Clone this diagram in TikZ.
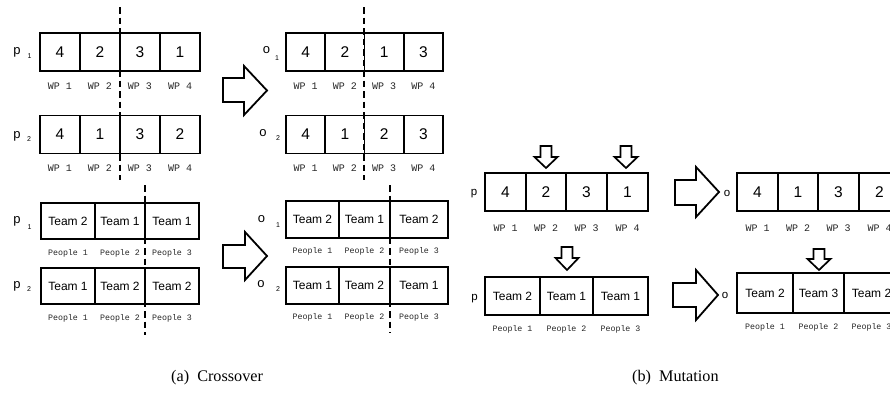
\documentclass[tikz,border=0pt]{standalone}
\usepackage{fontspec}
\setmainfont{Liberation Serif}
\newfontfamily\sansf{Liberation Sans}
\newfontfamily\monof{Liberation Mono}
\begin{document}
\begin{tikzpicture}[x=1pt,y=-1pt,
  cell/.style={draw, line width=1.7pt, inner sep=0pt, minimum height=38pt},
  num/.style={font=\sansf\fontsize{15.5}{15.5}\selectfont},
  team/.style={font=\sansf\fontsize{12}{12}\selectfont},
  wp/.style={font=\monof\fontsize{10}{10}\selectfont, inner sep=0pt, text=black!85},
  ppl/.style={font=\monof\fontsize{8.3}{8.3}\selectfont, inner sep=0pt, text=black!85},
  lbl/.style={font=\sansf\fontsize{13}{13}\selectfont, inner sep=0pt},
  mlbl/.style={font=\sansf\fontsize{11.5}{11.5}\selectfont, inner sep=0pt},
  sub/.style={font=\sansf\fontsize{7}{7}\selectfont, inner sep=0pt},
  cut/.style={line width=2pt, dash pattern=on 6.5pt off 4pt},
  bigarrow/.style={draw, line width=1.8pt, fill=white, line join=miter},
  caption/.style={font=\fontsize{16.2}{16.2}\selectfont, inner sep=0pt, anchor=west}
]
\useasboundingbox (0,0) rectangle (890,407);
\fill[white] (0,0) rectangle (890,407);
\clip (0,0) rectangle (890,407);

% ---------------- Crossover: work packages ----------------
\node[lbl] (lp1) at (17,52.5) {p};
\node[sub] (lp1s) at (29.5,56) {1};
\node[cell,num,minimum width=40pt] (pa1) at (60,52) {4};
\node[cell,num,minimum width=40pt] (pa2) at (100,52) {2};
\node[cell,num,minimum width=40pt] (pa3) at (140,52) {3};
\node[cell,num,minimum width=40pt] (pa4) at (180,52) {1};
\node[wp] (wa1) at (60,86) {WP 1};
\node[wp] (wa2) at (100,86) {WP 2};
\node[wp] (wa3) at (140,86) {WP 3};
\node[wp] (wa4) at (180,86) {WP 4};

\node[lbl] (lp2) at (17,136) {p};
\node[sub] (lp2s) at (29,139.5) {2};
\node[cell,num,minimum width=40pt] (pb1) at (60,134.5) {4};
\node[cell,num,minimum width=40pt] (pb2) at (100,134.5) {1};
\node[cell,num,minimum width=40pt] (pb3) at (140,134.5) {3};
\node[cell,num,minimum width=40pt] (pb4) at (180,134.5) {2};
\node[wp] (wb1) at (60,168) {WP 1};
\node[wp] (wb2) at (100,168) {WP 2};
\node[wp] (wb3) at (140,168) {WP 3};
\node[wp] (wb4) at (180,168) {WP 4};

\node[lbl] (lo1) at (266.5,50) {o};
\node[sub] (lo1s) at (277,58) {1};
\node[cell,num,minimum width=39.25pt] (oa1) at (305.6,52) {4};
\node[cell,num,minimum width=39.25pt] (oa2) at (344.9,52) {2};
\node[cell,num,minimum width=39.25pt] (oa3) at (384.1,52) {1};
\node[cell,num,minimum width=39.25pt] (oa4) at (423.4,52) {3};
\node[wp] (woa1) at (305.6,86) {WP 1};
\node[wp] (woa2) at (344.9,86) {WP 2};
\node[wp] (woa3) at (384.1,86) {WP 3};
\node[wp] (woa4) at (423.4,86) {WP 4};

\node[lbl] (lo2) at (263,133.5) {o};
\node[sub] (lo2s) at (278,138) {2};
\node[cell,num,minimum width=39.25pt] (ob1) at (305.6,134.5) {4};
\node[cell,num,minimum width=39.25pt] (ob2) at (344.9,134.5) {1};
\node[cell,num,minimum width=39.25pt] (ob3) at (384.1,134.5) {2};
\node[cell,num,minimum width=39.25pt] (ob4) at (423.4,134.5) {3};
\node[wp] (wob1) at (305.6,168) {WP 1};
\node[wp] (wob2) at (344.9,168) {WP 2};
\node[wp] (wob3) at (384.1,168) {WP 3};
\node[wp] (wob4) at (423.4,168) {WP 4};

\coordinate (cA1) at (120,7);
\coordinate (cA2) at (120,180);
\draw[cut] (cA1) -- (cA2);
\coordinate (cB1) at (364,7);
\coordinate (cB2) at (364,180);
\draw[cut] (cB1) -- (cB2);

\draw[bigarrow] (223,78) -- (244,78) -- (244,66) -- (267,90.5) -- (244,115) -- (244,102) -- (223,102) -- cycle;

% ---------------- Crossover: teams ----------------
\node[lbl] (lp3) at (17,221) {p};
\node[sub] (lp3s) at (29.5,227) {1};
\node[cell,team,minimum width=54pt,minimum height=36pt] (pc1) at (68,221) {Team 2};
\node[cell,team,minimum width=50pt,minimum height=36pt] (pc2) at (120,221) {Team 1};
\node[cell,team,minimum width=54pt,minimum height=36pt] (pc3) at (172,221) {Team 1};
\node[ppl] (qc1) at (68,253) {People 1};
\node[ppl] (qc2) at (120,253) {People 2};
\node[ppl] (qc3) at (172,253) {People 3};

\node[lbl] (lp4) at (17,286) {p};
\node[sub] (lp4s) at (29,289.5) {2};
\node[cell,team,minimum width=54pt,minimum height=36pt] (pd1) at (68,286) {Team 1};
\node[cell,team,minimum width=50pt,minimum height=36pt] (pd2) at (120,286) {Team 2};
\node[cell,team,minimum width=54pt,minimum height=36pt] (pd3) at (172,286) {Team 2};
\node[ppl] (qd1) at (68,318) {People 1};
\node[ppl] (qd2) at (120,318) {People 2};
\node[ppl] (qd3) at (172,318) {People 3};

\node[lbl] (lo3) at (261.5,219.5) {o};
\node[sub] (lo3s) at (278,225) {1};
\node[cell,team,minimum width=53pt,minimum height=37pt] (oc1) at (312.5,219.5) {Team 2};
\node[cell,team,minimum width=51pt,minimum height=37pt] (oc2) at (364.5,219.5) {Team 1};
\node[cell,team,minimum width=58pt,minimum height=37pt] (oc3) at (419,219.5) {Team 2};
\node[ppl] (rc1) at (312.5,251) {People 1};
\node[ppl] (rc2) at (364.5,251) {People 2};
\node[ppl] (rc3) at (419,251) {People 3};

\node[lbl] (lo4) at (261,284) {o};
\node[sub] (lo4s) at (278,289.5) {2};
\node[cell,team,minimum width=53pt,minimum height=37pt] (od1) at (312.5,285.5) {Team 1};
\node[cell,team,minimum width=51pt,minimum height=37pt] (od2) at (364.5,285.5) {Team 2};
\node[cell,team,minimum width=58pt,minimum height=37pt] (od3) at (419,285.5) {Team 1};
\node[ppl] (rd1) at (312.5,317) {People 1};
\node[ppl] (rd2) at (364.5,317) {People 2};
\node[ppl] (rd3) at (419,317) {People 3};

\coordinate (cC1) at (145,185);
\coordinate (cC2) at (145,335);
\draw[cut] (cC1) -- (cC2);
\coordinate (cD1) at (390,185);
\coordinate (cD2) at (390,333);
\draw[cut] (cD1) -- (cD2);

\draw[bigarrow] (223,245) -- (245,245) -- (245,232) -- (267,256) -- (245,280) -- (245,268) -- (223,268) -- cycle;

% ---------------- Mutation: work packages ----------------
\node[mlbl] (mp1) at (474,194) {p};
\node[cell,num,minimum width=41pt] (ma1) at (505.5,192) {4};
\node[cell,num,minimum width=40pt] (ma2) at (546,192) {2};
\node[cell,num,minimum width=41pt] (ma3) at (586.5,192) {3};
\node[cell,num,minimum width=41pt] (ma4) at (627.5,192) {1};
\node[wp] (mw1) at (505.5,228) {WP 1};
\node[wp] (mw2) at (546,228) {WP 2};
\node[wp] (mw3) at (586.5,228) {WP 3};
\node[wp] (mw4) at (627.5,228) {WP 4};

\node[mlbl] (mo1) at (727,193) {o};
\node[cell,num,minimum width=41pt] (na1) at (757.5,192) {4};
\node[cell,num,minimum width=40pt] (na2) at (798,192) {1};
\node[cell,num,minimum width=41pt] (na3) at (838.5,192) {3};
\node[cell,num,minimum width=41pt] (na4) at (879.5,192) {2};
\node[wp] (nw1) at (757.5,228) {WP 1};
\node[wp] (nw2) at (798,228) {WP 2};
\node[wp] (nw3) at (838.5,228) {WP 3};
\node[wp] (nw4) at (879.5,228) {WP 4};

\draw[bigarrow] (675,180) -- (696,180) -- (696,167) -- (719,192) -- (696,217) -- (696,205) -- (675,205) -- cycle;

% down arrows
\draw[bigarrow,line width=1.7pt] (540.5,146) -- (551.5,146) -- (551.5,157) -- (557.5,157) -- (546,168) -- (534.5,157) -- (540.5,157) -- cycle;
\draw[bigarrow,line width=1.7pt] (620.5,146) -- (631.5,146) -- (631.5,157) -- (637.5,157) -- (626,168) -- (614.5,157) -- (620.5,157) -- cycle;

% ---------------- Mutation: teams ----------------
\node[mlbl] (mp2) at (474.5,299) {p};
\node[cell,team,minimum width=55pt] (mc1) at (512.5,296) {Team 2};
\node[cell,team,minimum width=53pt] (mc2) at (566.5,296) {Team 1};
\node[cell,team,minimum width=55pt] (mc3) at (620.5,296) {Team 1};
\node[ppl] (mq1) at (512.5,329) {People 1};
\node[ppl] (mq2) at (566.5,329) {People 2};
\node[ppl] (mq3) at (620.5,329) {People 3};

\node[mlbl] (mo2) at (725,295) {o};
\node[cell,team,minimum width=56pt,minimum height=40pt] (nc1) at (765,293) {Team 2};
\node[cell,team,minimum width=51pt,minimum height=40pt] (nc2) at (818.5,293) {Team 3};
\node[cell,team,minimum width=55pt,minimum height=40pt] (nc3) at (871.5,293) {Team 2};
\node[ppl] (nq1) at (765,327) {People 1};
\node[ppl] (nq2) at (818.5,327) {People 2};
\node[ppl] (nq3) at (871.5,327) {People 3};

\draw[bigarrow] (673,283) -- (696,283) -- (696,270) -- (718,295) -- (696,320) -- (696,307) -- (673,307) -- cycle;

\draw[bigarrow,line width=1.7pt] (561.5,247) -- (572.5,247) -- (572.5,258) -- (578.5,258) -- (567,270) -- (555.5,258) -- (561.5,258) -- cycle;
\draw[bigarrow,line width=1.7pt] (813.5,249) -- (824.5,249) -- (824.5,259) -- (830.5,259) -- (819,270) -- (807.5,259) -- (813.5,259) -- cycle;

% ---------------- Captions ----------------
\node[caption] (capa) at (171,378) {(a)\hspace{0.5em}Crossover};
\node[caption] (capb) at (632,378) {(b)\hspace{0.5em}Mutation};
\end{tikzpicture}
\end{document}
